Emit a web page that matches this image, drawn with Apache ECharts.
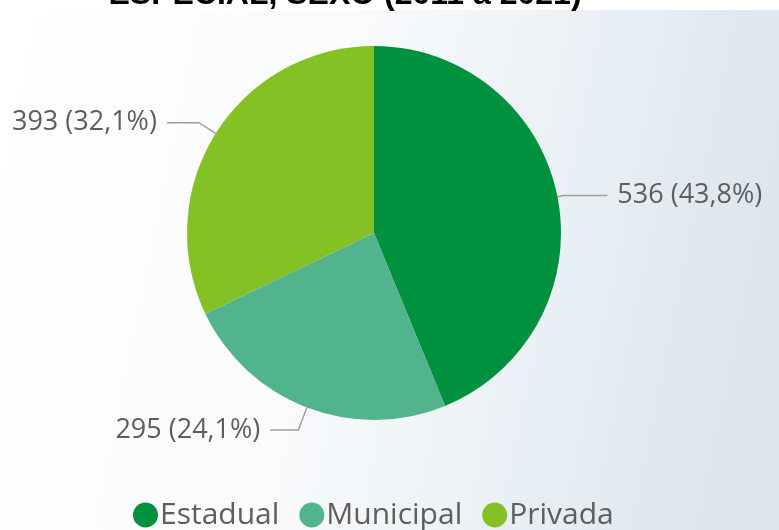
<!DOCTYPE html>
<html>
<head>
<meta charset="utf-8">
<script src="https://cdn.jsdelivr.net/npm/echarts@6/dist/echarts.min.js"></script>
<style>
 html, body { margin: 0; padding: 0; }
 #main { width: 779px; height: 530px; }
</style>
</head>
<body>
<div id="main"></div>
<script>
 // dados do gráfico
 var categorias = ['Estadual', 'Municipal', 'Privada'];
 var valores = [536, 295, 393];
 var cores = ['#00913f', '#52b48c', '#84c125'];
 var titulo = 'ESPECIAL, SEXO (2011 a 2021)';

 // comprimento das linhas dos rótulos (por fatia)
 var linhas = [[6, 44], [24, 28], [20, 32]];

 var myChart = echarts.init(document.getElementById('main'));

 var dados = categorias.map(function (nome, i) {
   return {
     name: nome,
     value: valores[i],
     itemStyle: { color: cores[i] },
     labelLine: { length: linhas[i][0], length2: linhas[i][1] }
   };
 });

 var option = {
   backgroundColor: {
     type: 'linear', x: 0, y: 0, x2: 1, y2: 0.3,
     colorStops: [
       { offset: 0, color: '#ffffff' },
       { offset: 0.45, color: '#f9fbfc' },
       { offset: 1, color: '#dce6ee' }
     ]
   },
   graphic: [
     { type: 'rect', left: 0, top: 0, shape: { width: 779, height: 10 }, style: { fill: '#ffffff' }, z: -1 }
   ],
   title: {
     text: titulo,
     left: 340,
     top: -26,
     textAlign: 'center',
     textStyle: { fontFamily: 'Liberation Sans', fontWeight: 'bold', fontSize: 32, color: '#000000' }
   },
   legend: {
     data: categorias,
     left: 128,
     top: 495,
     icon: 'circle',
     itemWidth: 25,
     itemHeight: 25,
     itemGap: 20,
     textStyle: { fontFamily: 'Open Sans', fontSize: 30, color: '#605e5c', padding: [0, 0, 0, -3] }
   },
   series: [{
     type: 'pie',
     center: [374, 233],
     radius: 187,
     startAngle: 90,
     data: dados,
     label: {
       fontFamily: 'Open Sans',
       fontSize: 27,
       color: '#605e5c',
       distanceToLabelLine: 10,
       formatter: function (p) {
         return p.value + ' (' + p.percent.toFixed(1).replace('.', ',') + '%)';
       }
     },
     labelLine: {
       lineStyle: { color: '#a0a0a0', width: 1.5 }
     },
     emphasis: { disabled: true }
   }]
 };

 myChart.setOption(option);
</script>
</body>
</html>
